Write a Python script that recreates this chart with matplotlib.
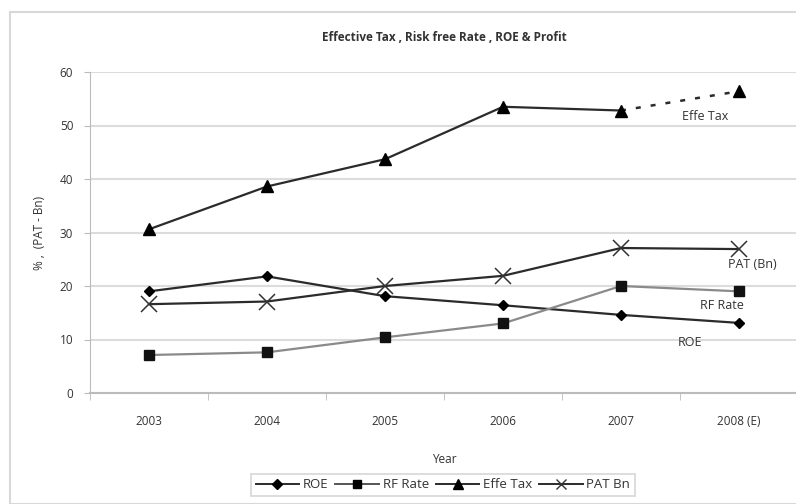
import matplotlib
matplotlib.use('Agg')
import matplotlib.pyplot as plt
from matplotlib.patches import Rectangle
from matplotlib.lines import Line2D

# 数据
years = ['2003', '2004', '2005', '2006', '2007', '2008 (E)']
roe = [19.0, 21.8, 18.1, 16.4, 14.6, 13.1]
rf_rate = [7.1, 7.6, 10.4, 13.0, 20.0, 19.0]
effe_tax = [30.6, 38.6, 43.7, 53.5, 52.8, 56.4]
pat_bn = [16.6, 17.1, 20.0, 21.9, 27.1, 26.9]

plt.rcParams['font.family'] = ['Open Sans', 'DejaVu Sans']
text_color = '#333333'

fig = plt.figure(figsize=(7.96, 5.04), dpi=100)
ax = fig.add_axes([90 / 796, 1 - 393 / 504, 708 / 796, 321 / 504])

# 外框
fig.patches.append(Rectangle((10 / 796, 0), 1, 1 - 12 / 504, transform=fig.transFigure,
                             fill=False, edgecolor='#d8d8d8', linewidth=1.5))

x = list(range(len(years)))
dark = '#2b2b2b'

ax.plot(x, roe, color=dark, lw=1.6, marker='D', ms=5.5, mfc='black', mec='black', zorder=3)
ax.plot(x, rf_rate, color='#8a8a8a', lw=1.6, marker='s', ms=7.5, mfc='#111111', mec='#111111', zorder=3)
ax.plot(x[:5], effe_tax[:5], color=dark, lw=1.6, marker='^', ms=8.5, mfc='black', mec='black', zorder=3)
ax.plot(x[4:], effe_tax[4:], color=dark, lw=1.8, linestyle=(0, (2, 4)), zorder=2)
ax.plot(x[5], effe_tax[5], marker='^', ms=8.5, color='black', zorder=3)
ax.plot(x, pat_bn, color=dark, lw=1.6, marker='x', ms=11, mew=1.1, mec='#333333', zorder=3)

ax.set_xlim(-0.5, 5.5)
ax.set_ylim(0, 60)
ax.set_yticks(range(0, 61, 10))
ax.set_xticks(x)
ax.set_xticklabels(years)
ax.set_xticks([i + 0.5 for i in range(-1, 5)], minor=True)
ax.tick_params(axis='x', which='major', length=0, pad=16, labelsize=8.5, labelcolor=text_color)
ax.tick_params(axis='x', which='minor', length=5, color='#bbbbbb', direction='out')
ax.tick_params(axis='y', length=4, color='#bbbbbb', labelsize=8.5, labelcolor=text_color, pad=8)
ax.grid(True, axis='y', color='#dcdcdc', lw=1.5)
ax.set_axisbelow(True)
for side in ['top', 'right']:
    ax.spines[side].set_visible(False)
ax.spines['left'].set_color('#bbbbbb')
ax.spines['bottom'].set_color('#bbbbbb')
ax.spines['bottom'].set_linewidth(1.5)

ax.set_title('Effective Tax , Risk free Rate , ROE & Profit', fontsize=8.5, color=text_color,
             fontweight='bold', pad=22)
ax.set_xlabel('Year', fontsize=8.5, color=text_color, labelpad=18)
ax.set_ylabel('% ,  (PAT - Bn)', fontsize=8.5, color=text_color, labelpad=10)

# 系列标注
ax.text(4.52, 51.6, 'Effe Tax', fontsize=9, color=text_color, ha='left', va='center')
ax.text(4.91, 24.0, 'PAT (Bn)', fontsize=9, color=text_color, ha='left', va='center')
ax.text(4.67, 16.3, 'RF Rate', fontsize=9, color=text_color, ha='left', va='center')
ax.text(4.48, 9.4, 'ROE', fontsize=9, color=text_color, ha='left', va='center')

# 图例
handles = [
    Line2D([0], [0], color=dark, lw=1.4, marker='D', ms=5, mfc='black', mec='black'),
    Line2D([0], [0], color='#555555', lw=1.4, marker='s', ms=6, mfc='black', mec='black'),
    Line2D([0], [0], color=dark, lw=1.4, marker='^', ms=7, mfc='black', mec='black'),
    Line2D([0], [0], color=dark, lw=1.4, marker='x', ms=7, mec='#333333'),
]
leg = fig.legend(handles, ['ROE', 'RF Rate', 'Effe Tax', 'PAT Bn'], loc='center',
                 bbox_to_anchor=(443 / 796, 1 - 485 / 504), ncol=4, fontsize=9.5,
                 frameon=True, fancybox=False, handlelength=3.3, handletextpad=0.3,
                 columnspacing=0.5, borderpad=0.35, labelcolor=text_color)
leg.get_frame().set_edgecolor('#cccccc')
leg.get_frame().set_linewidth(1.2)

fig.savefig('out.png', dpi=100)
